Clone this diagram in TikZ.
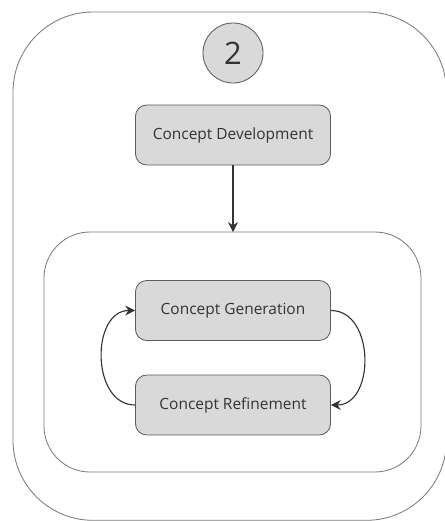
\documentclass[tikz,border=0pt]{standalone}
\usepackage{fontspec}
\setmainfont{Open Sans}
\usetikzlibrary{arrows.meta}

\definecolor{boxfill}{HTML}{D9D9D9}
\definecolor{framegray}{HTML}{7A7A7A}
\definecolor{linedark}{HTML}{333333}

\tikzset{
  stagebox/.style={draw=linedark!80,fill=boxfill,rounded corners=8pt,line width=0.6pt,
    minimum width=4.875cm,minimum height=1.5cm,font=\fontsize{11}{13}\selectfont,text=linedark},
  flow/.style={-{Stealth[length=7pt,width=7pt]},line width=0.8pt,draw=linedark}
}

\begin{document}
\begin{tikzpicture}[x=0.025cm,y=-0.025cm]
\useasboundingbox (0,0) rectangle (445,521);
\clip (0,0) rectangle (445,521);
\draw [framegray,line width=0.6pt,rounded corners=2cm] (13,12) rectangle (446.5,520.3);
\node (num) [draw=linedark!80,fill=boxfill,circle,minimum size=1.5cm,line width=0.6pt,
  font=\fontsize{22}{24}\selectfont,text=linedark] at (233,53) {2};
\node (dev) [stagebox] at (233,135) {Concept Development};
\draw [framegray,line width=0.6pt,rounded corners=1.15cm] (44,232) rectangle (421,472);
\coordinate (top) at (233,232);
\node (gen) [stagebox] at (233,310.5) {Concept Generation};
\node (ref) [stagebox] at (233,405) {Concept Refinement};
\draw [flow] (dev) -- (top);
\draw [flow] (ref.west) to [out=180,in=180,looseness=1.2] (gen.west);
\draw [flow] (gen.east) to [out=0,in=0,looseness=1.2] (ref.east);
\end{tikzpicture}
\end{document}
